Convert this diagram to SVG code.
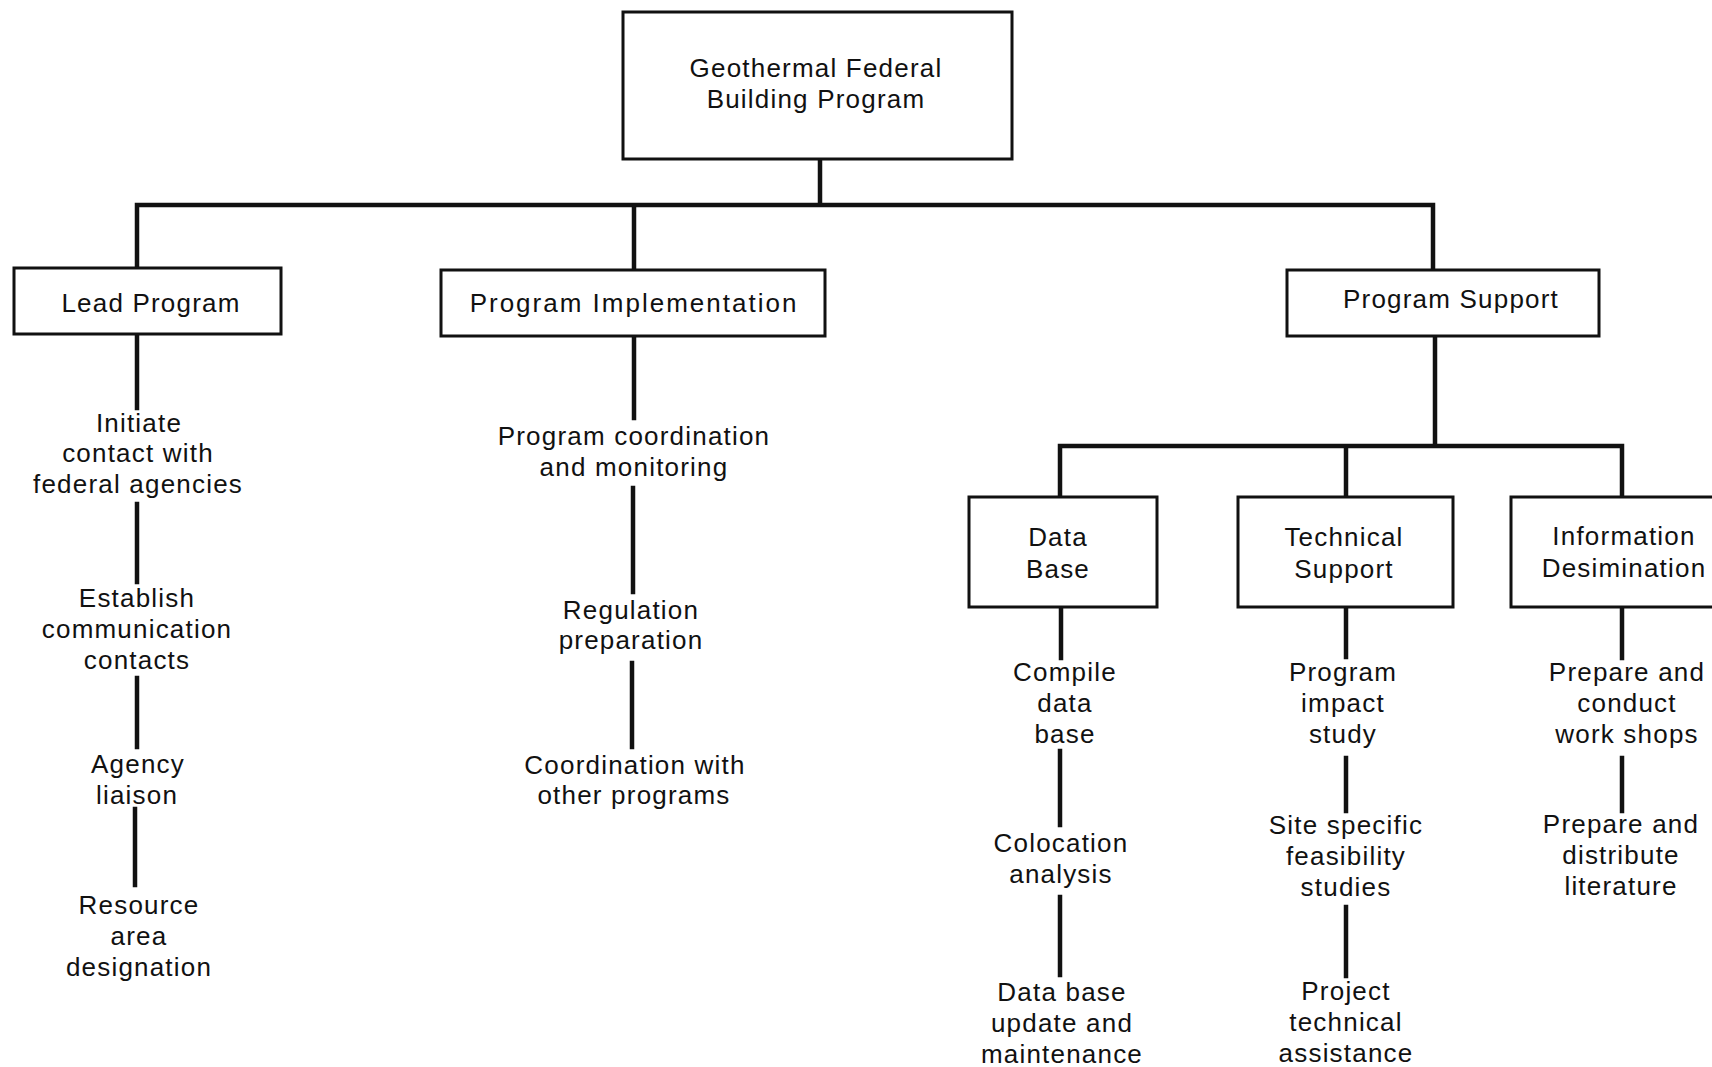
<svg xmlns="http://www.w3.org/2000/svg" width="1712" height="1067" viewBox="0 0 1712 1067">
<style>
.box{fill:#fff;stroke:#111;stroke-width:3}
.ln{stroke:#111;stroke-width:4.5;fill:none;stroke-linecap:square;stroke-linejoin:miter}
text{font-family:"Liberation Sans",Arial,sans-serif;font-size:26px;fill:#111;text-anchor:middle;letter-spacing:1.2px}
</style>
<rect width="1712" height="1067" fill="#fff"/>
<g id="connectors">
<path class="ln" d="M820 159V205M137 268V205H1433V270M634 205V270"/>
<path class="ln" d="M1435 336V446M1060 497V446H1622V497M1346 446V497"/>
<path class="ln" d="M137 334V408M137 504V582M137 678V747M135 809V885"/>
<path class="ln" d="M634 336V418M633 488V592M632 663V747"/>
<path class="ln" d="M1061 607V658M1060 751V825M1060 897V975"/>
<path class="ln" d="M1346 607V657M1346 758V811M1346 907V976"/>
<path class="ln" d="M1622 607V658M1622 758V811"/>
</g>
<g id="root"><rect class="box" x="623" y="12" width="389" height="147"/><text x="816" y="77">Geothermal Federal</text><text x="816" y="108">Building Program</text></g>
<g id="lead"><rect class="box" x="14" y="268" width="267" height="66"/><text x="151" y="312">Lead Program</text></g>
<g id="impl"><rect class="box" x="441" y="270" width="384" height="66"/><text x="634" y="312" style="letter-spacing:2px">Program Implementation</text></g>
<g id="support"><rect class="box" x="1287" y="270" width="312" height="66"/><text x="1451" y="308">Program Support</text></g>
<g id="database"><rect class="box" x="969" y="497" width="188" height="110"/><text x="1058" y="546">Data</text><text x="1058" y="578">Base</text></g>
<g id="technical"><rect class="box" x="1238" y="497" width="215" height="110"/><text x="1344" y="546">Technical</text><text x="1344" y="578">Support</text></g>
<g id="info"><rect class="box" x="1511" y="497" width="215" height="110"/><text x="1624" y="545">Information</text><text x="1624" y="577">Desimination</text></g>
<g id="lead-1"><text x="139" y="432">Initiate</text><text x="138" y="462">contact with</text><text x="138" y="493">federal agencies</text></g>
<g id="lead-2"><text x="137" y="607">Establish</text><text x="137" y="638">communication</text><text x="137" y="669">contacts</text></g>
<g id="lead-3"><text x="138" y="773">Agency</text><text x="137" y="804">liaison</text></g>
<g id="lead-4"><text x="139" y="914">Resource</text><text x="139" y="945">area</text><text x="139" y="976">designation</text></g>
<g id="impl-1"><text x="634" y="445">Program coordination</text><text x="634" y="476">and monitoring</text></g>
<g id="impl-2"><text x="631" y="619">Regulation</text><text x="631" y="649">preparation</text></g>
<g id="impl-3"><text x="635" y="774">Coordination with</text><text x="634" y="804">other programs</text></g>
<g id="db-1"><text x="1065" y="681">Compile</text><text x="1065" y="712">data</text><text x="1065" y="743">base</text></g>
<g id="db-2"><text x="1061" y="852">Colocation</text><text x="1061" y="883">analysis</text></g>
<g id="db-3"><text x="1062" y="1001">Data base</text><text x="1062" y="1032">update and</text><text x="1062" y="1063">maintenance</text></g>
<g id="tech-1"><text x="1343" y="681">Program</text><text x="1343" y="712">impact</text><text x="1343" y="743">study</text></g>
<g id="tech-2"><text x="1346" y="834">Site specific</text><text x="1346" y="865">feasibility</text><text x="1346" y="896">studies</text></g>
<g id="tech-3"><text x="1346" y="1000">Project</text><text x="1346" y="1031">technical</text><text x="1346" y="1062">assistance</text></g>
<g id="info-1"><text x="1627" y="681">Prepare and</text><text x="1627" y="712">conduct</text><text x="1627" y="743">work shops</text></g>
<g id="info-2"><text x="1621" y="833">Prepare and</text><text x="1621" y="864">distribute</text><text x="1621" y="895">literature</text></g>
</svg>
